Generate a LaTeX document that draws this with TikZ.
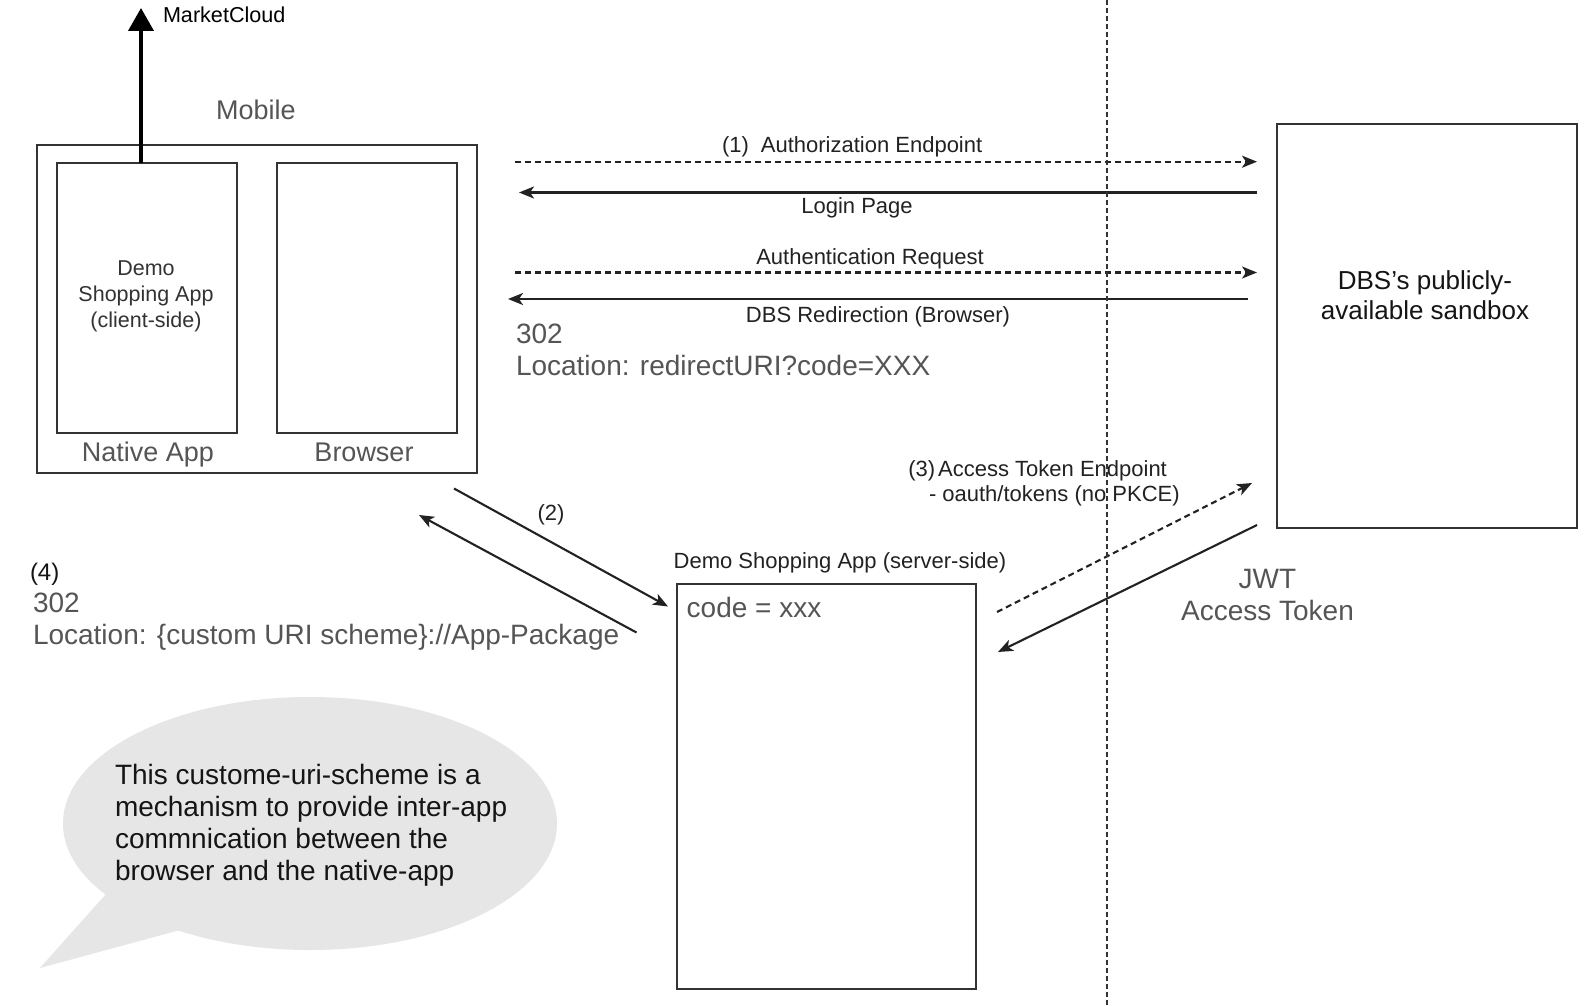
\documentclass[tikz,border=0pt]{standalone}
\usepackage{fontspec}
\setmainfont{Liberation Sans}
\usetikzlibrary{arrows.meta}
\definecolor{boxc}{HTML}{333333}
\definecolor{linec}{HTML}{222222}
\definecolor{ink}{HTML}{151515}
\definecolor{greyt}{HTML}{555555}
\definecolor{darkt}{HTML}{333333}
\definecolor{bubblec}{HTML}{E6E6E6}
\begin{document}
\begin{tikzpicture}[x=1pt,y=-1pt,
  box/.style={draw=boxc, line width=2pt, inner sep=0pt, outer sep=0pt},
  txt/.style={inner sep=0pt, outer sep=0pt},
  f21/.style={font=\fontsize{21.6}{25}\selectfont},
  f22/.style={font=\fontsize{22}{25}\selectfont},
  f26/.style={font=\fontsize{26}{30}\selectfont},
  f27/.style={font=\fontsize{27}{31}\selectfont},
  f28/.style={font=\fontsize{28}{31.5}\selectfont},
  thinarrow/.style={draw=linec, line width=2.1pt, -{Stealth[length=15pt,width=12pt,inset=4pt]}},
  dasharrow/.style={thinarrow, dash pattern=on 6pt off 4pt},
  bigarrow/.style={draw=black, line width=4pt, -{Triangle[length=23pt,width=25pt]}},
  divider/.style={draw=boxc, line width=1.8pt, dash pattern=on 5pt off 3pt}
]
\useasboundingbox (0,0) rectangle (1590,1006);
\fill[white] (0,0) rectangle (1590,1006);

% speech bubble
\fill[bubblec] (310,823.5) ellipse [x radius=247, y radius=126.5];
\fill[bubblec] (106,894) -- (40,968) -- (180,930) -- cycle;
\node[txt, f28, font=\fontsize{28}{31.7}\selectfont, align=left, anchor=base west, text=ink] (note) at (115,880)
  {This custome-uri-scheme is a\\mechanism to provide inter-app\\commnication between the\\browser and the native-app};

% mobile
\node[box, minimum width=440pt, minimum height=327.7pt] (mobile) at (256.7,308.85) {};
\node[box, minimum width=180.6pt, minimum height=270.6pt] (native) at (147,298) {};
\node[box, minimum width=180.6pt, minimum height=270.6pt] (browser) at (367,298) {};
\node[txt, f27, text=greyt, anchor=base] (mobilelbl) at (256,119.3) {Mobile};
\node[txt, f27, text=greyt, anchor=base] (nativelbl) at (148,461.7) {Native App};
\node[txt, f27, text=greyt, anchor=base] (browserlbl) at (364,461.7) {Browser};
\node[txt, font=\fontsize{21.5}{26.2}\selectfont, text=darkt, align=center, anchor=base] (clientlbl) at (146,327.4)
  {Demo\\Shopping App\\(client-side)};

% MarketCloud
\coordinate (mc) at (141,8);
\draw[bigarrow] (mc |- native.north) -- (mc);
\node[txt, f21, text=black, anchor=base west] (mclbl) at (163,22.5) {MarketCloud};

% DBS sandbox
\node[box, minimum width=300pt, minimum height=404pt] (dbs) at (1427,326) {};
\node[txt, f26, text=ink, align=center, anchor=base] (dbslbl) at (1425,319)
  {DBS’s publicly-\\available sandbox};

% server
\node[box, minimum width=299.3pt, minimum height=404.3pt] (server) at (826.35,786.45) {};
\node[txt, f22, text=linec, anchor=base] (serverlbl) at (840,568.3) {Demo Shopping App (server-side)};
\node[txt, f28, text=greyt, anchor=base west] (codelbl) at (686.7,617.3) {code = xxx};

% horizontal flows
\coordinate (a1s) at (515,161.7);  \coordinate (a1e) at (1257,161.7);
\coordinate (lps) at (1257,192.5); \coordinate (lpe) at (519,192.5);
\coordinate (a2s) at (515,272.5);  \coordinate (a2e) at (1257,272.5);
\coordinate (rds) at (1248,299);   \coordinate (rde) at (508,299);
\draw[dasharrow] (a1s) -- (a1e);
\draw[thinarrow] (lps) -- (lpe);
\draw[dasharrow] (a2s) -- (a2e);
\draw[thinarrow] (rds) -- (rde);
\node[txt, f22, text=linec, anchor=base west] (authlbl) at (722,152.7) {(1)\hspace{12pt}Authorization Endpoint};
\node[txt, f22, text=linec, anchor=base] (loginlbl) at (857,213) {Login Page};
\node[txt, f22, text=linec, anchor=base] (reqlbl) at (870,264) {Authentication Request};
\node[txt, f22, text=linec, anchor=base] (redirlbl) at (878,322.5) {DBS Redirection (Browser)};
\node[txt, f28, text=greyt, align=left, anchor=base west] (loc1) at (516,375) {302\\Location: redirectURI?code=XXX};

% diagonal flows
\coordinate (b2s) at (454,488.5);  \coordinate (b2e) at (668,606.5);
\coordinate (b4s) at (636.5,632.5); \coordinate (b4e) at (419,515);
\coordinate (b3s) at (997,612);    \coordinate (b3e) at (1252,483);
\coordinate (jws) at (1257,525);   \coordinate (jwe) at (998,652);
\draw[thinarrow] (b2s) -- (b2e);
\draw[thinarrow] (b4s) -- (b4e);
\draw[dasharrow] (b3s) -- (b3e);
\draw[thinarrow] (jws) -- (jwe);
\node[txt, f22, text=linec] (twolbl) at (551,515) {(2)};
\node[txt, font=\fontsize{24}{28}\selectfont, text=ink, anchor=base west] (fourlbl) at (30,580) {(4)};
\node[txt, f28, text=greyt, align=left, anchor=base west] (loc2) at (33,644) {302\\Location: \{custom URI scheme\}://App-Package};
\node[txt, f22, text=linec, anchor=base west] (threelbl) at (908.3,476.7) {(3)\hspace{3pt}Access Token Endpoint};
\node[txt, f22, text=linec, anchor=base west] (threelblb) at (929,501.7) {- oauth/tokens (no PKCE)};
\node[txt, f28, text=greyt, align=center, anchor=base] (jwtlbl) at (1267.5,620) {JWT\\Access Token};

% divider
\coordinate (vtop) at (1107,0); \coordinate (vbot) at (1107,1006);
\draw[divider] (vtop) -- (vbot);
\end{tikzpicture}
\end{document}
